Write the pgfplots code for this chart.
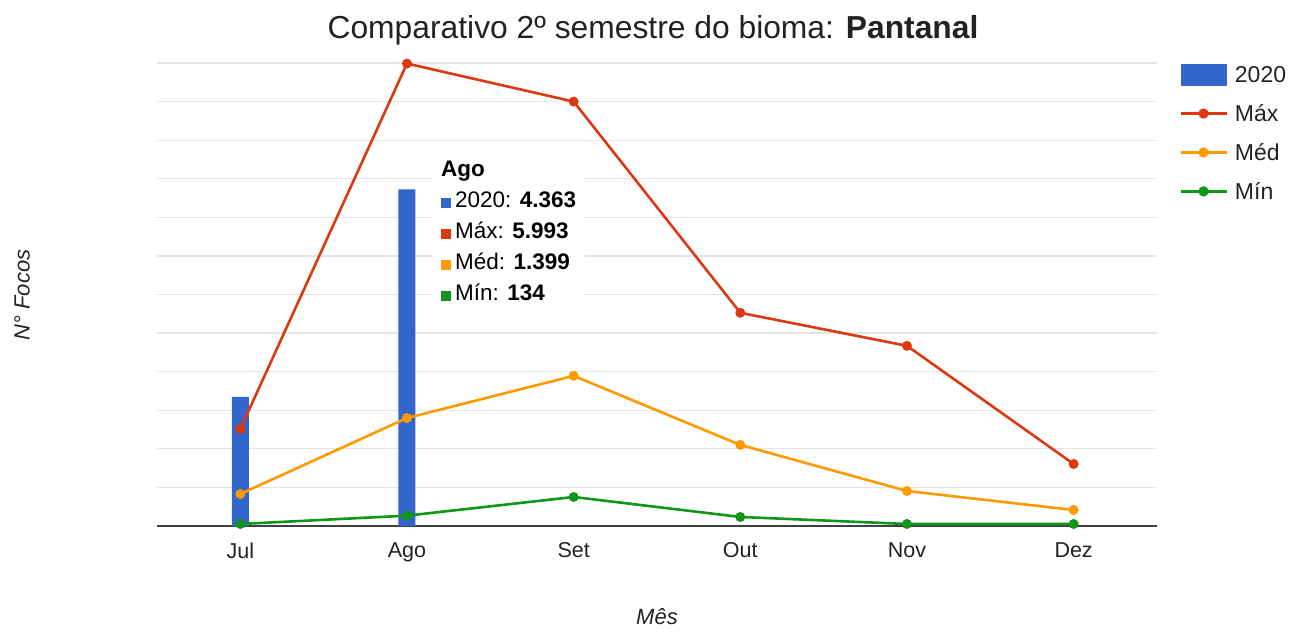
\documentclass[border=0pt]{standalone}
\usepackage{pgfplots}
\pgfplotsset{compat=1.18}
\usepackage{fontspec}
\setmainfont{Liberation Sans}
\definecolor{cBlue}{HTML}{3366CC}
\definecolor{cRed}{HTML}{DC3912}
\definecolor{cOrange}{HTML}{FF9900}
\definecolor{cGreen}{HTML}{109618}
\definecolor{cGrid}{HTML}{E4E4E4}
\definecolor{cText}{HTML}{222222}
\begin{document}
\begin{tikzpicture}
\useasboundingbox (0,0) rectangle (1296pt,632pt);
\begin{axis}[
  at={(157pt,106pt)}, anchor=south west,
  scale only axis, width=1000pt, height=463pt,
  xmin=-0.5, xmax=5.5, ymin=0, ymax=6000,
  xtick={0,1,2,3,4,5},
  xticklabels={Jul,Ago,Set,Out,Nov,Dez},
  ytick={0,500,...,6000}, yticklabels={},
  ymajorgrids, major grid style={cGrid, line width=1.2pt},
  major tick length=0pt,
  axis lines*=left,
  x axis line style={draw=black!75, line width=1.3pt},
  y axis line style={draw=none},
  xticklabel style={font=\fontsize{21.5}{24}\selectfont, text=cText, yshift=-13pt},
  clip=false,
  legend style={at={(rel axis cs:1.019,1.003)}, anchor=north west, draw=none, fill=none,
    font=\fontsize{23}{26}\selectfont, text=cText, row sep=16.5pt},
  legend cell align=left,
]
\addplot[ybar, bar width=17pt, fill=cBlue, draw=none,
  legend image code/.code={\fill[cBlue] (0pt,-11pt) rectangle (46pt,11pt);}]
  coordinates {(0,1673) (1,4363)};
\addlegendentry{\hspace{5pt}2020}
\addplot[cRed, line width=2.6pt, mark=*, mark size=3.6pt, sharp plot,
  legend image code/.code={\draw[cRed, line width=2.8pt] (0pt,0pt)--(46pt,0pt); \fill[cRed] (23pt,0pt) circle (3.8pt);}]
  coordinates {(0,1258) (1,5993) (2,5500) (3,2763) (4,2335) (5,804)};
\addlegendentry{\hspace{5pt}Máx}
\addplot[cOrange, line width=2.6pt, mark=*, mark size=3.6pt, sharp plot,
  legend image code/.code={\draw[cOrange, line width=2.8pt] (0pt,0pt)--(46pt,0pt); \fill[cOrange] (23pt,0pt) circle (3.8pt);}]
  coordinates {(0,415) (1,1399) (2,1946) (3,1051) (4,454) (5,207)};
\addlegendentry{\hspace{5pt}Méd}
\addplot[cGreen, line width=2.6pt, mark=*, mark size=3.6pt, sharp plot,
  legend image code/.code={\draw[cGreen, line width=2.8pt] (0pt,0pt)--(46pt,0pt); \fill[cGreen] (23pt,0pt) circle (3.8pt);}]
  coordinates {(0,26) (1,134) (2,376) (3,117) (4,26) (5,26)};
\addlegendentry{\hspace{5pt}Mín}
\node[anchor=north west, fill=white, inner xsep=9pt, inner ysep=5pt, align=left,
  font=\fontsize{22.5}{31}\selectfont, text=black] at (rel axis cs:0.275,0.799)
  {\textbf{Ago}\\
   \textcolor{cBlue}{\rule{10pt}{10pt}}\hspace{4pt}2020: \textbf{4.363}\\
   \textcolor{cRed}{\rule{10pt}{10pt}}\hspace{4pt}Máx: \textbf{5.993}\\
   \textcolor{cOrange}{\rule{10pt}{10pt}}\hspace{4pt}Méd: \textbf{1.399}\\
   \textcolor{cGreen}{\rule{10pt}{10pt}}\hspace{4pt}Mín: \textbf{134}};
\end{axis}
\node[font=\fontsize{31.8}{36}\selectfont, text=cText] at (653pt,602pt)
  {Comparativo 2º semestre do bioma: \textbf{Pantanal}};
\node[font=\fontsize{22}{26}\selectfont\itshape, text=cText, rotate=90] at (22pt,337pt) {N° Focos};
\node[font=\fontsize{22}{26}\selectfont\itshape, text=cText] at (657pt,15pt) {Mês};
\end{tikzpicture}
\end{document}
